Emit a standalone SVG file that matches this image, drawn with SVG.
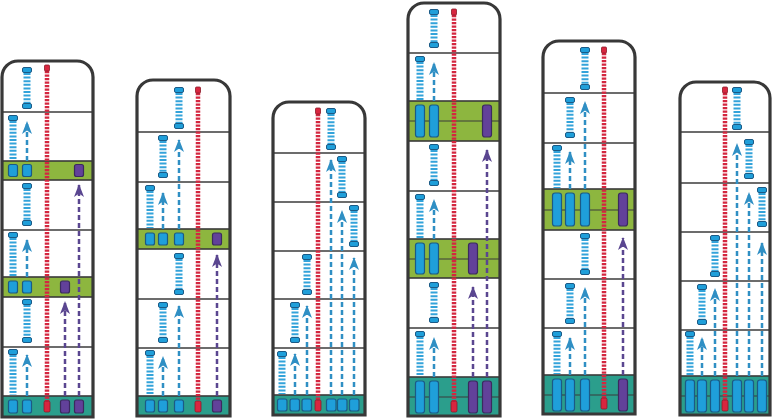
<svg xmlns="http://www.w3.org/2000/svg" width="773" height="420" viewBox="0 0 773 420">
<style>
.out{fill:none;stroke:#383838;stroke-width:3.2}
.bg{fill:#fff}
.fl{fill:none;stroke:#3d3d3d;stroke-width:1.3}
.grn{fill:#8db63f;stroke:#3a3a3a;stroke-width:1.6}
.teal{fill:#2b9e8c;stroke:#3a3a3a;stroke-width:1.6}
.mid{stroke:#3a3a3a;stroke-width:1.2}
.lad{stroke:#33a3da;stroke-width:7;stroke-dasharray:2 1.6}
.lc{fill:#1f9fda;stroke:#1b5a86;stroke-width:1}
.bc{fill:#1f9fda;stroke:#1b5a86;stroke-width:1.2}
.pc{fill:#62419a;stroke:#3b2a5e;stroke-width:1.2}
.rc{fill:#d8263f;stroke:#8a1a28;stroke-width:0.8}
.red{stroke:#d4263f;stroke-width:4.5;stroke-dasharray:2.2 1.3}
.ab{stroke:#2f8fc4;stroke-width:2.5;stroke-dasharray:5 3;fill:none;marker-end:url(#ahb)}
.ap{stroke:#5a4690;stroke-width:2.5;stroke-dasharray:5 3;fill:none;marker-end:url(#ahp)}
</style>
<defs>
<marker id="ahb" markerUnits="userSpaceOnUse" markerWidth="13" markerHeight="10" viewBox="0 0 13 10" refX="12" refY="5" orient="auto"><path d="M0 0L13 5L0 10L3.5 5Z" fill="#2f8fc4"/></marker>
<marker id="ahp" markerUnits="userSpaceOnUse" markerWidth="13" markerHeight="10" viewBox="0 0 13 10" refX="12" refY="5" orient="auto"><path d="M0 0L13 5L0 10L3.5 5Z" fill="#5a4690"/></marker>
</defs>

<!-- Building 1 -->
<g id="b1">
<path class="bg" d="M2 417V77A16 16 0 0 1 18 61H77A16 16 0 0 1 93 77V417Z"/>
<rect class="grn" x="2" y="161" width="91" height="19"/>
<rect class="grn" x="2" y="277" width="91" height="20"/>
<rect class="teal" x="2" y="396" width="91" height="21"/>
<path class="fl" d="M2 112H93M2 230H93M2 347H93"/>
<line class="lad" x1="27" y1="73" x2="27" y2="103"/><rect class="lc" x="22.5" y="67.5" width="9" height="5" rx="1.5"/><rect class="lc" x="22.5" y="103.5" width="9" height="5" rx="1.5"/>
<line class="lad" x1="13" y1="121" x2="13" y2="160"/><rect class="lc" x="8.5" y="115.5" width="9" height="5" rx="1.5"/>
<line class="lad" x1="27" y1="189" x2="27" y2="220"/><rect class="lc" x="22.5" y="183.5" width="9" height="5" rx="1.5"/><rect class="lc" x="22.5" y="220.5" width="9" height="5" rx="1.5"/>
<line class="lad" x1="13" y1="238" x2="13" y2="276"/><rect class="lc" x="8.5" y="232.5" width="9" height="5" rx="1.5"/>
<line class="lad" x1="27" y1="305" x2="27" y2="337"/><rect class="lc" x="22.5" y="299.5" width="9" height="5" rx="1.5"/><rect class="lc" x="22.5" y="337.5" width="9" height="5" rx="1.5"/>
<line class="lad" x1="13" y1="355" x2="13" y2="395"/><rect class="lc" x="8.5" y="349.5" width="9" height="5" rx="1.5"/>
<rect class="bc" x="8.5" y="164.5" width="9" height="12" rx="2"/><rect class="bc" x="22.5" y="164.5" width="9" height="12" rx="2"/><rect class="pc" x="74.5" y="164.5" width="9" height="12" rx="2"/>
<rect class="bc" x="8.5" y="281" width="9" height="12" rx="2"/><rect class="bc" x="22.5" y="281" width="9" height="12" rx="2"/><rect class="pc" x="60.5" y="281" width="9" height="12" rx="2"/>
<rect class="bc" x="8.5" y="400" width="9" height="13" rx="2"/><rect class="bc" x="22.5" y="400" width="9" height="13" rx="2"/><rect class="pc" x="60.5" y="400" width="9" height="13" rx="2"/><rect class="pc" x="74.5" y="400" width="9" height="13" rx="2"/>
<line class="red" x1="47" y1="71" x2="47" y2="401"/>
<rect class="rc" x="44.5" y="65" width="5" height="6" rx="1"/><rect class="rc" x="44" y="401" width="6" height="11" rx="1.5"/>
<path class="out" d="M2 417V77A16 16 0 0 1 18 61H77A16 16 0 0 1 93 77V417Z"/>
</g>

<!-- Building 2 -->
<g id="b2">
<path class="bg" d="M137 416V96A16 16 0 0 1 153 80H214A16 16 0 0 1 230 96V416Z"/>
<rect class="grn" x="137" y="229" width="93" height="20"/>
<rect class="teal" x="137" y="396" width="93" height="20"/>
<path class="fl" d="M137 132H230M137 182H230M137 299H230M137 348H230"/>
<line class="lad" x1="179" y1="93" x2="179" y2="123"/><rect class="lc" x="174.5" y="87.5" width="9" height="5" rx="1.5"/><rect class="lc" x="174.5" y="123.5" width="9" height="5" rx="1.5"/>
<line class="lad" x1="163" y1="141" x2="163" y2="172"/><rect class="lc" x="158.5" y="135.5" width="9" height="5" rx="1.5"/><rect class="lc" x="158.5" y="172.5" width="9" height="5" rx="1.5"/>
<line class="lad" x1="150" y1="191" x2="150" y2="228"/><rect class="lc" x="145.5" y="185.5" width="9" height="5" rx="1.5"/>
<line class="lad" x1="179" y1="259" x2="179" y2="289"/><rect class="lc" x="174.5" y="253.5" width="9" height="5" rx="1.5"/><rect class="lc" x="174.5" y="289.5" width="9" height="5" rx="1.5"/>
<line class="lad" x1="163" y1="308" x2="163" y2="337"/><rect class="lc" x="158.5" y="302.5" width="9" height="5" rx="1.5"/><rect class="lc" x="158.5" y="337.5" width="9" height="5" rx="1.5"/>
<line class="lad" x1="150" y1="356" x2="150" y2="395"/><rect class="lc" x="145.5" y="350.5" width="9" height="5" rx="1.5"/>
<rect class="bc" x="145.5" y="233" width="9" height="12" rx="2"/><rect class="bc" x="158.5" y="233" width="9" height="12" rx="2"/><rect class="bc" x="174.5" y="233" width="9" height="12" rx="2"/><rect class="pc" x="212.5" y="233" width="9" height="12" rx="2"/>
<rect class="bc" x="145.5" y="400" width="9" height="12" rx="2"/><rect class="bc" x="158.5" y="400" width="9" height="12" rx="2"/><rect class="bc" x="174.5" y="400" width="9" height="12" rx="2"/><rect class="pc" x="212.5" y="400" width="9" height="12" rx="2"/>
<line class="red" x1="198" y1="93" x2="198" y2="401"/>
<rect class="rc" x="195.5" y="87" width="5" height="6" rx="1"/><rect class="rc" x="195" y="401" width="6" height="11" rx="1.5"/>
<path class="out" d="M137 416V96A16 16 0 0 1 153 80H214A16 16 0 0 1 230 96V416Z"/>
</g>

<!-- Building 3 -->
<g id="b3">
<path class="bg" d="M273 415V118A16 16 0 0 1 289 102H349A16 16 0 0 1 365 118V415Z"/>
<rect class="teal" x="273" y="395" width="92" height="20"/>
<path class="fl" d="M273 153H365M273 202H365M273 251H365M273 299H365M273 348H365"/>
<line class="lad" x1="331" y1="114" x2="331" y2="144"/><rect class="lc" x="326.5" y="108.5" width="9" height="5" rx="1.5"/><rect class="lc" x="326.5" y="144.5" width="9" height="5" rx="1.5"/>
<line class="lad" x1="342" y1="162" x2="342" y2="192"/><rect class="lc" x="337.5" y="156.5" width="9" height="5" rx="1.5"/><rect class="lc" x="337.5" y="192.5" width="9" height="5" rx="1.5"/>
<line class="lad" x1="354" y1="211" x2="354" y2="241"/><rect class="lc" x="349.5" y="205.5" width="9" height="5" rx="1.5"/><rect class="lc" x="349.5" y="241.5" width="9" height="5" rx="1.5"/>
<line class="lad" x1="307" y1="260" x2="307" y2="289"/><rect class="lc" x="302.5" y="254.5" width="9" height="5" rx="1.5"/><rect class="lc" x="302.5" y="289.5" width="9" height="5" rx="1.5"/>
<line class="lad" x1="295" y1="308" x2="295" y2="337"/><rect class="lc" x="290.5" y="302.5" width="9" height="5" rx="1.5"/><rect class="lc" x="290.5" y="337.5" width="9" height="5" rx="1.5"/>
<line class="lad" x1="282" y1="357" x2="282" y2="394"/><rect class="lc" x="277.5" y="351.5" width="9" height="5" rx="1.5"/>
<rect class="bc" x="277.5" y="399" width="9.5" height="12" rx="2"/><rect class="bc" x="290" y="399" width="9.5" height="12" rx="2"/><rect class="bc" x="302" y="399" width="9.5" height="12" rx="2"/><rect class="bc" x="326.5" y="399" width="9.5" height="12" rx="2"/><rect class="bc" x="337.5" y="399" width="9.5" height="12" rx="2"/><rect class="bc" x="349.5" y="399" width="9.5" height="12" rx="2"/>
<line class="red" x1="318" y1="114" x2="318" y2="400"/>
<rect class="rc" x="315.5" y="108" width="5" height="6" rx="1"/><rect class="rc" x="315" y="400" width="6" height="11" rx="1.5"/>
<path class="out" d="M273 415V118A16 16 0 0 1 289 102H349A16 16 0 0 1 365 118V415Z"/>
</g>

<!-- Building 4 -->
<g id="b4">
<path class="bg" d="M408 416V19A16 16 0 0 1 424 3H484A16 16 0 0 1 500 19V416Z"/>
<rect class="grn" x="408" y="101" width="92" height="40"/>
<rect class="grn" x="408" y="239" width="92" height="39"/>
<rect class="teal" x="408" y="377" width="92" height="39"/>
<path class="mid" d="M408 121H500M408 259H500M408 397H500"/>
<path class="fl" d="M408 53H500M408 191H500M408 328H500"/>
<line class="lad" x1="434" y1="15" x2="434" y2="42"/><rect class="lc" x="429.5" y="9.5" width="9" height="5" rx="1.5"/><rect class="lc" x="429.5" y="42.5" width="9" height="5" rx="1.5"/>
<line class="lad" x1="420" y1="62" x2="420" y2="100"/><rect class="lc" x="415.5" y="56.5" width="9" height="5" rx="1.5"/>
<line class="lad" x1="434" y1="150" x2="434" y2="180"/><rect class="lc" x="429.5" y="144.5" width="9" height="5" rx="1.5"/><rect class="lc" x="429.5" y="180.5" width="9" height="5" rx="1.5"/>
<line class="lad" x1="420" y1="200" x2="420" y2="238"/><rect class="lc" x="415.5" y="194.5" width="9" height="5" rx="1.5"/>
<line class="lad" x1="434" y1="288" x2="434" y2="317"/><rect class="lc" x="429.5" y="282.5" width="9" height="5" rx="1.5"/><rect class="lc" x="429.5" y="317.5" width="9" height="5" rx="1.5"/>
<line class="lad" x1="420" y1="337" x2="420" y2="376"/><rect class="lc" x="415.5" y="331.5" width="9" height="5" rx="1.5"/>
<rect class="bc" x="415.5" y="105" width="9" height="32" rx="2.5"/><rect class="bc" x="429.5" y="105" width="9" height="32" rx="2.5"/><rect class="pc" x="482.5" y="105" width="9" height="32" rx="2.5"/>
<rect class="bc" x="415.5" y="243" width="9" height="31" rx="2.5"/><rect class="bc" x="429.5" y="243" width="9" height="31" rx="2.5"/><rect class="pc" x="468.5" y="243" width="9" height="31" rx="2.5"/>
<rect class="bc" x="415.5" y="381" width="9" height="32" rx="2.5"/><rect class="bc" x="429.5" y="381" width="9" height="32" rx="2.5"/><rect class="pc" x="468.5" y="381" width="9" height="32" rx="2.5"/><rect class="pc" x="482.5" y="381" width="9" height="32" rx="2.5"/>
<line class="red" x1="454" y1="15" x2="454" y2="401"/>
<rect class="rc" x="451.5" y="9" width="5" height="6" rx="1"/><rect class="rc" x="451" y="401" width="6" height="11" rx="1.5"/>
<path class="out" d="M408 416V19A16 16 0 0 1 424 3H484A16 16 0 0 1 500 19V416Z"/>
</g>

<!-- Building 5 -->
<g id="b5">
<path class="bg" d="M543 414V57A16 16 0 0 1 559 41H619A16 16 0 0 1 635 57V414Z"/>
<rect class="grn" x="543" y="189" width="92" height="41"/>
<rect class="teal" x="543" y="375" width="92" height="39"/>
<path class="mid" d="M543 210H635M543 395H635"/>
<path class="fl" d="M543 93H635M543 143H635M543 279H635M543 328H635"/>
<line class="lad" x1="585" y1="53" x2="585" y2="84"/><rect class="lc" x="580.5" y="47.5" width="9" height="5" rx="1.5"/><rect class="lc" x="580.5" y="84.5" width="9" height="5" rx="1.5"/>
<line class="lad" x1="570" y1="103" x2="570" y2="132"/><rect class="lc" x="565.5" y="97.5" width="9" height="5" rx="1.5"/><rect class="lc" x="565.5" y="132.5" width="9" height="5" rx="1.5"/>
<line class="lad" x1="557" y1="151" x2="557" y2="188"/><rect class="lc" x="552.5" y="145.5" width="9" height="5" rx="1.5"/>
<line class="lad" x1="585" y1="239" x2="585" y2="269"/><rect class="lc" x="580.5" y="233.5" width="9" height="5" rx="1.5"/><rect class="lc" x="580.5" y="269.5" width="9" height="5" rx="1.5"/>
<line class="lad" x1="570" y1="289" x2="570" y2="318"/><rect class="lc" x="565.5" y="283.5" width="9" height="5" rx="1.5"/><rect class="lc" x="565.5" y="318.5" width="9" height="5" rx="1.5"/>
<line class="lad" x1="557" y1="337" x2="557" y2="374"/><rect class="lc" x="552.5" y="331.5" width="9" height="5" rx="1.5"/>
<rect class="bc" x="552.5" y="193" width="9" height="33" rx="2.5"/><rect class="bc" x="565.5" y="193" width="9" height="33" rx="2.5"/><rect class="bc" x="580.5" y="193" width="9" height="33" rx="2.5"/><rect class="pc" x="618.5" y="193" width="9" height="33" rx="2.5"/>
<rect class="bc" x="552.5" y="379" width="9" height="32" rx="2.5"/><rect class="bc" x="565.5" y="379" width="9" height="32" rx="2.5"/><rect class="bc" x="580.5" y="379" width="9" height="32" rx="2.5"/><rect class="pc" x="618.5" y="379" width="9" height="32" rx="2.5"/>
<line class="red" x1="604" y1="53" x2="604" y2="398"/>
<rect class="rc" x="601.5" y="47" width="5" height="6" rx="1"/><rect class="rc" x="601" y="398" width="6" height="11" rx="1.5"/>
<path class="out" d="M543 414V57A16 16 0 0 1 559 41H619A16 16 0 0 1 635 57V414Z"/>
</g>

<!-- Building 6 -->
<g id="b6">
<path class="bg" d="M680 415V98A16 16 0 0 1 696 82H754A16 16 0 0 1 770 98V415Z"/>
<rect class="teal" x="680" y="376" width="90" height="39"/>
<path class="mid" d="M680 396H770"/>
<path class="fl" d="M680 132H770M680 183H770M680 232H770M680 281H770M680 330H770"/>
<line class="lad" x1="737" y1="93" x2="737" y2="124"/><rect class="lc" x="732.5" y="87.5" width="9" height="5" rx="1.5"/><rect class="lc" x="732.5" y="124.5" width="9" height="5" rx="1.5"/>
<line class="lad" x1="749" y1="145" x2="749" y2="173"/><rect class="lc" x="744.5" y="139.5" width="9" height="5" rx="1.5"/><rect class="lc" x="744.5" y="173.5" width="9" height="5" rx="1.5"/>
<line class="lad" x1="762" y1="193" x2="762" y2="221"/><rect class="lc" x="757.5" y="187.5" width="9" height="5" rx="1.5"/><rect class="lc" x="757.5" y="221.5" width="9" height="5" rx="1.5"/>
<line class="lad" x1="715" y1="241" x2="715" y2="271"/><rect class="lc" x="710.5" y="235.5" width="9" height="5" rx="1.5"/><rect class="lc" x="710.5" y="271.5" width="9" height="5" rx="1.5"/>
<line class="lad" x1="702" y1="290" x2="702" y2="319"/><rect class="lc" x="697.5" y="284.5" width="9" height="5" rx="1.5"/><rect class="lc" x="697.5" y="319.5" width="9" height="5" rx="1.5"/>
<line class="lad" x1="690" y1="337" x2="690" y2="375"/><rect class="lc" x="685.5" y="331.5" width="9" height="5" rx="1.5"/>
<rect class="bc" x="685.5" y="380" width="9" height="32" rx="2.5"/><rect class="bc" x="697.5" y="380" width="9" height="32" rx="2.5"/><rect class="bc" x="710.5" y="380" width="9" height="32" rx="2.5"/><rect class="bc" x="732.5" y="380" width="9" height="32" rx="2.5"/><rect class="bc" x="744.5" y="380" width="9" height="32" rx="2.5"/><rect class="bc" x="757.5" y="380" width="9" height="32" rx="2.5"/>
<line class="red" x1="725" y1="93" x2="725" y2="400"/>
<rect class="rc" x="722.5" y="87" width="5" height="6" rx="1"/><rect class="rc" x="722" y="400" width="6" height="11" rx="1.5"/>
<path class="out" d="M680 415V98A16 16 0 0 1 696 82H754A16 16 0 0 1 770 98V415Z"/>
</g>

<!-- Connectors -->
<g id="connectors">
<line class="ab" x1="27" y1="161" x2="27" y2="122"/>
<line class="ab" x1="27" y1="277" x2="27" y2="240"/>
<line class="ab" x1="27" y1="396" x2="27" y2="355"/>
<line class="ap" x1="79" y1="396" x2="79" y2="185"/>
<line class="ap" x1="65" y1="396" x2="65" y2="302"/>

<line class="ab" x1="179" y1="229" x2="179" y2="140"/>
<line class="ab" x1="163" y1="229" x2="163" y2="193"/>
<line class="ab" x1="179" y1="396" x2="179" y2="306"/>
<line class="ab" x1="163" y1="396" x2="163" y2="357"/>
<line class="ap" x1="217" y1="396" x2="217" y2="255"/>

<line class="ab" x1="331" y1="395" x2="331" y2="160"/>
<line class="ab" x1="342" y1="395" x2="342" y2="211"/>
<line class="ab" x1="354" y1="395" x2="354" y2="258"/>
<line class="ab" x1="307" y1="395" x2="307" y2="306"/>
<line class="ab" x1="295" y1="395" x2="295" y2="354"/>

<line class="ab" x1="434" y1="101" x2="434" y2="63"/>
<line class="ab" x1="434" y1="239" x2="434" y2="200"/>
<line class="ab" x1="434" y1="377" x2="434" y2="338"/>
<line class="ap" x1="487" y1="377" x2="487" y2="150"/>
<line class="ap" x1="473" y1="377" x2="473" y2="287"/>

<line class="ab" x1="585" y1="189" x2="585" y2="102"/>
<line class="ab" x1="570" y1="189" x2="570" y2="152"/>
<line class="ab" x1="585" y1="375" x2="585" y2="288"/>
<line class="ab" x1="570" y1="375" x2="570" y2="338"/>
<line class="ap" x1="623" y1="375" x2="623" y2="238"/>

<line class="ab" x1="737" y1="376" x2="737" y2="144"/>
<line class="ab" x1="749" y1="376" x2="749" y2="193"/>
<line class="ab" x1="762" y1="376" x2="762" y2="243"/>
<line class="ab" x1="715" y1="376" x2="715" y2="289"/>
<line class="ab" x1="702" y1="376" x2="702" y2="338"/>
</g>
</svg>
